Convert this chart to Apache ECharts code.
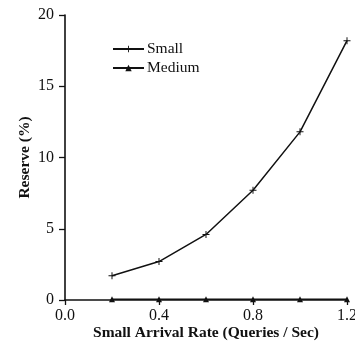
<!DOCTYPE html>
<html><head><meta charset="utf-8">
<script src="https://cdn.jsdelivr.net/npm/echarts@6/dist/echarts.min.js"></script>
<style>html,body{margin:0;padding:0;background:#fff}#c{width:355px;height:346px}</style>
</head><body><div id="c"></div>
<script>
const arrivalRates = [0.2, 0.4, 0.6, 0.8, 1.0, 1.2];
const smallReserve = [1.7, 2.7, 4.6, 7.7, 11.8, 18.2];
const mediumReserve = [0.05, 0.05, 0.05, 0.05, 0.05, 0.05];
const seriesNames = ['Small', 'Medium'];
const xTitle = 'Small Arrival Rate (Queries / Sec)';
const yTitle = 'Reserve (%)';

const font = 'Liberation Serif, Times New Roman, serif';
const plus = 'path://M4.3,0H5.7V4.3H10V5.7H5.7V10H4.3V5.7H0V4.3H4.3Z';
const chart = echarts.init(document.getElementById('c'));
chart.setOption({
  animation: false,
  backgroundColor: '#fff',
  grid: {left: 65, right: 8, top: 15, bottom: 46, containLabel: false, outerBoundsMode: 'none'},
  legend: {
    left: 107, top: 36, orient: 'vertical', itemWidth: 31, itemHeight: 8, itemGap: 3,
    textStyle: {fontFamily: font, fontSize: 15.5, color: '#111', padding: [0, 0, 0, -2]},
    data: seriesNames
  },
  xAxis: {
    type: 'value', min: 0, max: 1.2, interval: 0.4,
    name: xTitle, nameLocation: 'middle', nameGap: 25, nameMoveOverlap: false,
    nameTextStyle: {fontFamily: font, fontSize: 15.5, fontWeight: 'bold', color: '#111'},
    axisLine: {lineStyle: {color: '#111', width: 1.6}},
    axisTick: {length: 5, lineStyle: {color: '#111', width: 1.3}},
    axisLabel: {fontFamily: font, fontSize: 16, color: '#111', margin: 8, formatter: v => v.toFixed(1)},
    splitLine: {show: false}
  },
  yAxis: {
    type: 'value', min: 0, max: 20, interval: 5,
    name: yTitle, nameLocation: 'middle', nameGap: 32, nameMoveOverlap: false,
    nameTextStyle: {fontFamily: font, fontSize: 15.5, fontWeight: 'bold', color: '#111'},
    axisLine: {show: true, lineStyle: {color: '#111', width: 1.6}},
    axisTick: {show: true, length: 6, lineStyle: {color: '#111', width: 1.3}},
    axisLabel: {fontFamily: font, fontSize: 16, color: '#111', margin: 11},
    splitLine: {show: false}
  },
  series: [
    {name: seriesNames[0], type: 'line', data: arrivalRates.map((x, i) => [x, smallReserve[i]]),
     symbol: plus, symbolSize: 7, showSymbol: true,
     lineStyle: {color: '#111', width: 1.5}, itemStyle: {color: '#111'}},
    {name: seriesNames[1], type: 'line', data: arrivalRates.map((x, i) => [x, mediumReserve[i]]),
     symbol: 'triangle', symbolSize: 6, showSymbol: true,
     lineStyle: {color: '#111', width: 1.5}, itemStyle: {color: '#111'}}
  ]
});
</script></body></html>
